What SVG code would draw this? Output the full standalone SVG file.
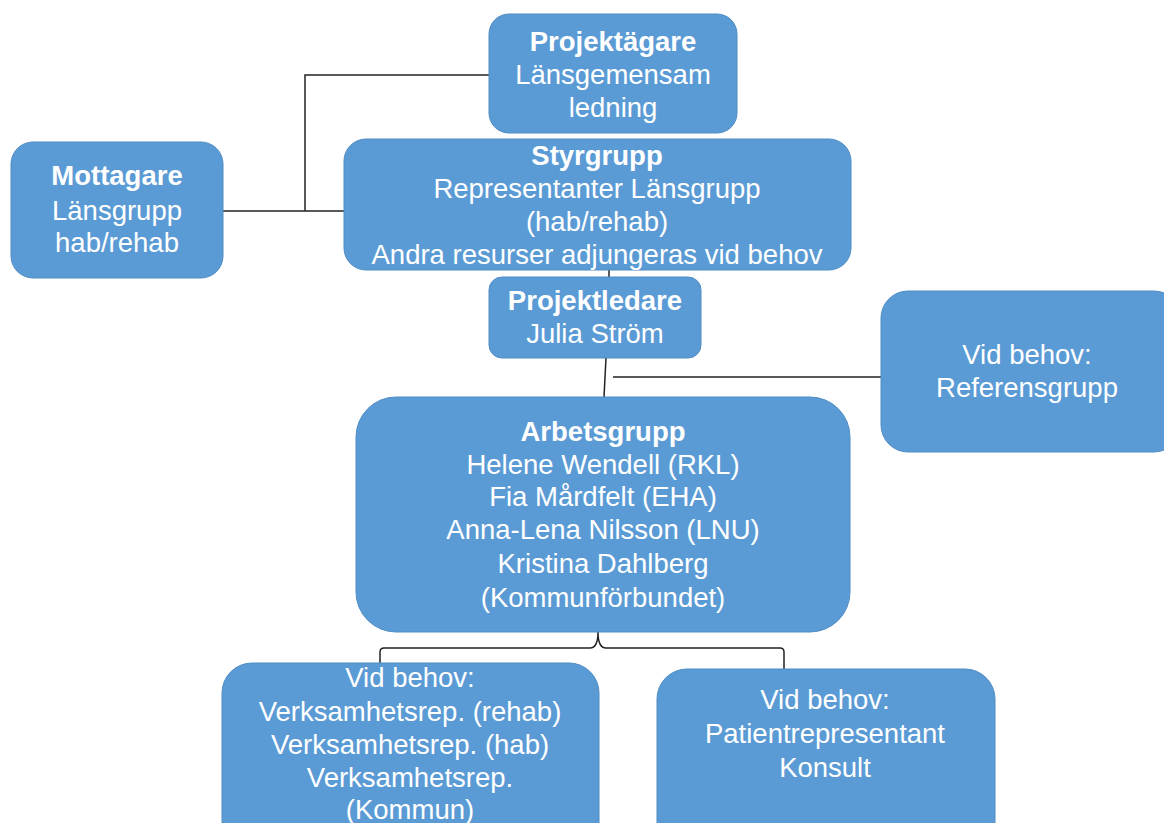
<svg xmlns="http://www.w3.org/2000/svg" width="1164" height="823" viewBox="0 0 1164 823">
<style>
.box{fill:#5b9bd5;stroke:#4f8cc4;stroke-width:1}
text{font-family:"Liberation Sans",Arial,sans-serif;font-size:27.5px;fill:#fff;text-anchor:middle}
.b{font-weight:bold}
.c{fill:none;stroke:#222;stroke-width:1.5}
</style>
<rect width="1164" height="823" fill="#fff"/>
<g id="connectors">
<polyline class="c" points="489,75 305,75 305,211"/>
<line class="c" x1="223" y1="211" x2="344" y2="211"/>
<line class="c" x1="609" y1="270" x2="609" y2="277"/>
<line class="c" x1="606" y1="358" x2="604" y2="397"/>
<line class="c" x1="881" y1="377" x2="613" y2="377"/>
<path class="c" d="M598,632 Q598,648 590,648 L384,648 Q380,648 380,652 L380,663 M598,632 Q598,648 606,648 L780,648 Q784,648 784,652 L784,669"/>
</g>
<g id="projektagare">
<rect class="box" x="489" y="14" width="248" height="119" rx="20"/>
<text x="613" y="51" class="b">Projektägare</text>
<text x="613" y="84">Länsgemensam</text>
<text x="613" y="117">ledning</text>
</g>
<g id="styrgrupp">
<rect class="box" x="344" y="139" width="507" height="131" rx="22"/>
<text x="597" y="165" class="b">Styrgrupp</text>
<text x="597" y="198">Representanter Länsgrupp</text>
<text x="597" y="231">(hab/rehab)</text>
<text x="597" y="264">Andra resurser adjungeras vid behov</text>
</g>
<g id="mottagare">
<rect class="box" x="11" y="142" width="212" height="136" rx="22"/>
<text x="117" y="185" class="b">Mottagare</text>
<text x="117" y="220">Länsgrupp</text>
<text x="117" y="252">hab/rehab</text>
</g>
<g id="projektledare">
<rect class="box" x="489" y="277" width="212" height="81" rx="13"/>
<text x="595" y="310" class="b">Projektledare</text>
<text x="595" y="343">Julia Ström</text>
</g>
<g id="referensgrupp">
<rect class="box" x="881" y="291" width="300" height="161" rx="27"/>
<text x="1027" y="364">Vid behov:</text>
<text x="1027" y="397">Referensgrupp</text>
</g>
<g id="arbetsgrupp">
<rect class="box" x="356" y="397" width="494" height="235" rx="40"/>
<text x="603" y="441" class="b">Arbetsgrupp</text>
<text x="603" y="474">Helene Wendell (RKL)</text>
<text x="603" y="506">Fia Mårdfelt (EHA)</text>
<text x="603" y="539">Anna-Lena Nilsson (LNU)</text>
<text x="603" y="573">Kristina Dahlberg</text>
<text x="603" y="607">(Kommunförbundet)</text>
</g>
<g id="vidbehov-verksamhet">
<rect class="box" x="222" y="663" width="377" height="190" rx="30"/>
<text x="410" y="687">Vid behov:</text>
<text x="410" y="721">Verksamhetsrep. (rehab)</text>
<text x="410" y="754">Verksamhetsrep. (hab)</text>
<text x="410" y="787">Verksamhetsrep.</text>
<text x="410" y="819">(Kommun)</text>
</g>
<g id="vidbehov-patient">
<rect class="box" x="657" y="669" width="338" height="184" rx="30"/>
<text x="825" y="709">Vid behov:</text>
<text x="825" y="743">Patientrepresentant</text>
<text x="825" y="777">Konsult</text>
</g>
</svg>
